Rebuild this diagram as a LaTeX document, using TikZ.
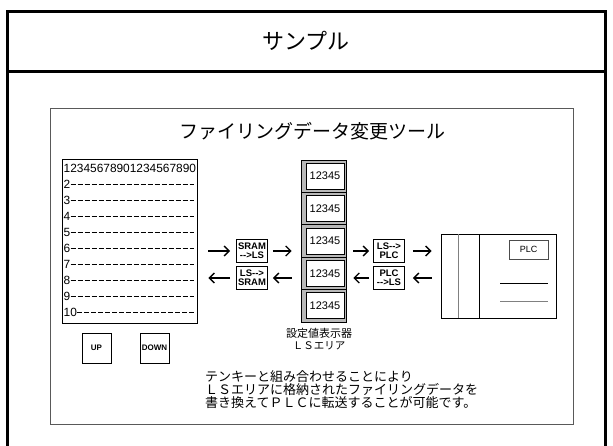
\documentclass[tikz,border=0pt]{standalone}
\usepackage{fontspec}
\setmainfont{Liberation Sans}
\newfontfamily\jpfont{Noto Sans CJK JP}
\usetikzlibrary{arrows.meta}
\tikzset{
  frame/.style={line width=3pt},
  panel/.style={draw=gray!70!black, line width=0.8pt},
  numtext/.style={font=\fontsize{11.9}{12}\selectfont, inner sep=0pt},
  rowline/.style={dash pattern=on 5pt off 2pt, line width=0.6pt},
  keybox/.style={draw, line width=0.8pt, minimum width=29pt, minimum height=30pt,
    inner sep=0pt, font=\bfseries\fontsize{8}{8}\selectfont},
  cell/.style={draw, line width=0.8pt, fill=gray!55, minimum width=45pt,
    minimum height=32.4pt, inner sep=0pt},
  cellface/.style={draw, line width=0.8pt, fill=white, minimum width=38pt,
    minimum height=26pt, inner sep=0pt, font=\fontsize{11}{11}\selectfont},
  convbox/.style={draw, line width=0.9pt, minimum width=31pt, minimum height=23pt,
    inner sep=0pt, align=center, font=\bfseries\fontsize{9.5}{9}\selectfont},
  flow/.style={-{Straight Barb[length=5pt,width=10pt]}, line width=1.3pt},
}
\begin{document}
\begin{tikzpicture}[x=1pt, y=-1pt]
  \useasboundingbox (0,0) rectangle (613,445);
  % outer frame with header
  \draw[frame] (7.5,450) -- (7.5,11.5) -- (605.5,11.5) -- (605.5,450);
  \draw[frame] (7.5,71) -- (605.5,71);
  \node[font=\jpfont\fontsize{22}{22}\selectfont] (hdr) at (306,41) {サンプル};
  % screen panel
  \draw[panel] (50,108) rectangle (573,424);
  \node[font=\jpfont\fontsize{19}{19}\selectfont] (title) at (312,131) {ファイリングデータ変更ツール};
  % data list (left)
  \node[draw, line width=0.9pt, minimum width=135pt, minimum height=164pt, inner sep=0pt] (list) at (129.5,241) {};
  \node[numtext, anchor=west] (row1) at (63.5,168) {12345678901234567890};
  \foreach \r in {2,...,10} {
    \node[numtext, anchor=west] (row\r) at (63.5,{168+16*(\r-1)}) {\r};
    \draw[rowline, shorten >=3pt] (row\r.east) -- (row\r.east -| list.east);
  }
  \node[keybox] (up) at (96.5,348) {UP};
  \node[keybox] (down) at (154.5,348) {DOWN};
  % LS area (center)
  \foreach \i in {0,...,4} {
    \node[cell] (cell\i) at (323.5,{176.2+32.4*\i}) {};
    \node[cellface] (val\i) at (325,{176.2+32.4*\i}) {12345};
  }
  \node[font=\jpfont\fontsize{11}{11}\selectfont] (lbl1) at (319,333) {設定値表示器};
  \node[font=\jpfont\fontsize{10.5}{10.5}\selectfont] (lbl2) at (319,346) {ＬＳエリア};
  % converters
  \node[convbox] (sram2ls) at (252,251) {SRAM\\-{}->LS};
  \node[convbox] (ls2sram) at (252,278) {LS-{}->\\SRAM};
  \node[convbox] (ls2plc) at (389,251) {LS-{}->\\PLC};
  \node[convbox] (plc2ls) at (389,278) {PLC\\-{}->LS};
  % PLC (right)
  \node[draw, line width=0.9pt, minimum width=115pt, minimum height=84pt, inner sep=0pt] (plc) at (498.5,276) {};
  \draw[gray, line width=1pt] (458,234) -- (458,318);
  \draw[line width=0.8pt] (479,234) -- (479,318);
  \node[draw=gray!60!black, line width=0.8pt, minimum width=39pt, minimum height=19pt, inner sep=0pt,
    font=\fontsize{9}{9}\selectfont] (plcbtn) at (528.5,249.5) {PLC};
  \draw[line width=0.8pt] (500,283) -- (548,283);
  \draw[gray, line width=1pt] (500,301) -- (548,301);
  % arrows
  \draw[flow, shorten <=11pt, shorten >=6pt] (list.east |- sram2ls.west) -- (sram2ls.west);
  \draw[flow, shorten <=5pt, shorten >=9pt] (sram2ls.east) -- (sram2ls.east -| cell2.west);
  \draw[flow, shorten <=7pt, shorten >=4pt] (cell2.east |- ls2plc.west) -- (ls2plc.west);
  \draw[flow, shorten <=8pt, shorten >=9pt] (ls2plc.east) -- (ls2plc.east -| plc.west);
  \draw[flow, shorten <=9pt, shorten >=8pt] (plc.west |- plc2ls.east) -- (plc2ls.east);
  \draw[flow, shorten <=4pt, shorten >=7pt] (plc2ls.west) -- (plc2ls.west -| cell4.east);
  \draw[flow, shorten <=9pt, shorten >=5pt] (cell4.west |- ls2sram.east) -- (ls2sram.east);
  \draw[flow, shorten <=6pt, shorten >=11pt] (ls2sram.west) -- (ls2sram.west -| list.east);
  % note
  \node[font=\jpfont\fontsize{13}{12}\selectfont, align=left, anchor=north west, inner sep=0pt] (note) at (205,370)
    {テンキーと組み合わせることにより\\ＬＳエリアに格納されたファイリングデータを\\書き換えてＰＬＣに転送することが可能です。};
\end{tikzpicture}
\end{document}
